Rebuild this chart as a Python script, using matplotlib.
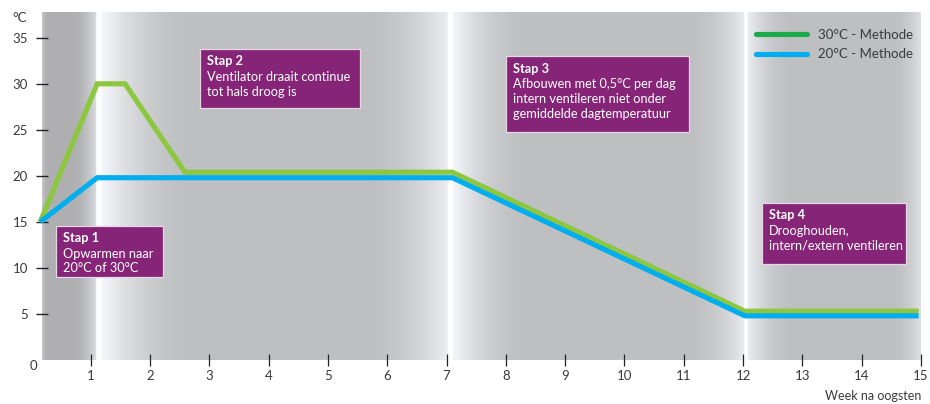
import numpy as np
import matplotlib
matplotlib.use("Agg")
import matplotlib.pyplot as plt
from matplotlib.patches import Rectangle
from matplotlib.lines import Line2D

plt.rcParams['font.family'] = ['Lato', 'DejaVu Sans']

# ---- data -------------------------------------------------------------
weeks_30 = [0.15, 1.11, 1.58, 2.59, 7.10, 12.03, 14.96]
temp_30 = [15.0, 30.0, 30.0, 20.4, 20.4, 5.3, 5.3]

weeks_20 = [0.15, 1.11, 7.10, 12.03, 14.96]
temp_20 = [15.0, 19.8, 19.8, 4.8, 4.8]

x_ticks = list(range(1, 16))
y_ticks = [5, 10, 15, 20, 25, 30, 35]

series_labels = ["30°C - Methode", "20°C - Methode"]

stap_titles = ["Stap 1", "Stap 2", "Stap 3", "Stap 4"]
stap_texts = [
    "Opwarmen naar\n20°C of 30°C",
    "Ventilator draait continue\ntot hals droog is",
    "Afbouwen met 0,5°C per dag\nintern ventileren niet onder\ngemiddelde dagtemperatuur",
    "Drooghouden,\nintern/extern ventileren",
]
# box extents: (x0, x1, y_bottom, y_top) in axis units
stap_boxes = [
    (0.42, 2.22, 8.98, 14.6),
    (2.84, 5.54, 27.38, 33.77),
    (8.00, 11.09, 24.78, 33.0),
    (12.32, 14.75, 10.39, 17.1),
]

# ---- styling ----------------------------------------------------------
GREEN = "#8DC63F"
GREEN_LEG = "#1AAB4B"
BLUE = "#00AEEF"
PURPLE = "#862478"
TXT = "#3a3a3a"

XMIN, XMAX = 0.18, 15.0
YMIN, YMAX = 0.0, 37.8

fig = plt.figure(figsize=(9.3, 4.04), dpi=100)
ax = fig.add_axes([42 / 930, 44 / 404, (921 - 42) / 930, (360 - 12) / 404])
ax.set_xlim(XMIN, XMAX)
ax.set_ylim(YMIN, YMAX)

# shaded background panels, separated by thin white gaps
panels = [
    # (x0, x1, left_edge, left_width, right_edge, right_width, base)
    (0.18, 1.09, 0.78, 0.10, 0.86, 0.40, 0.69),
    (1.18, 7.02, 0.97, 1.60, 0.93, 1.50, 0.75),
    (7.10, 12.02, 0.97, 1.30, 0.92, 1.00, 0.75),
    (12.08, 15.0, 0.93, 0.80, 0.88, 0.50, 0.75),
]
xs = np.linspace(XMIN, XMAX, 1800)
shade = np.ones_like(xs)
for x0, x1, le, lw, re, rw, base in panels:
    m = (xs >= x0) & (xs <= x1)
    v = np.full(m.sum(), base)
    dl = xs[m] - x0
    dr = x1 - xs[m]
    fl = np.clip(1 - dl / lw, 0, 1) ** 2
    fr = np.clip(1 - dr / rw, 0, 1) ** 2
    v = v + (le - base) * fl
    v = np.maximum(v, base + (re - base) * fr)
    shade[m] = v
rgb = np.stack([shade * 0.995, shade * 1.0, np.minimum(shade * 1.012, 1)], axis=-1)
img = np.repeat(rgb[None, :, :], 2, axis=0)
ax.imshow(img, extent=[XMIN, XMAX, YMIN, YMAX], aspect='auto', zorder=0,
          interpolation='bilinear')

# temperature curves
lw_line = 3.7
ax.plot(weeks_30, temp_30, color=GREEN, lw=lw_line, solid_joinstyle='miter',
        solid_capstyle='butt', zorder=3, clip_on=False)
ax.plot(weeks_20, temp_20, color=BLUE, lw=lw_line, solid_joinstyle='miter',
        solid_capstyle='butt', zorder=4, clip_on=False)

# step boxes
for (x0, x1, yb, yt), title, body in zip(stap_boxes, stap_titles, stap_texts):
    ax.add_patch(Rectangle((x0, yb), x1 - x0, yt - yb, facecolor=PURPLE,
                           edgecolor="#e6d6e4", lw=0.9, zorder=5))
    ax.annotate(title, xy=(x0, yt), xytext=(5.2, -4.6), textcoords='offset points',
                ha='left', va='top', color='white', fontsize=9.2, fontweight='bold',
                zorder=6)
    ax.annotate(body, xy=(x0, yt), xytext=(5.2, -15.8), textcoords='offset points',
                ha='left', va='top', color='white', fontsize=9.2, linespacing=1.27,
                zorder=6)

# axes and ticks
for s in ax.spines.values():
    s.set_visible(False)
ax.set_xticks(x_ticks)
ax.set_yticks(y_ticks)
ax.tick_params(axis='x', direction='inout', length=8, width=0.9, color='#222222',
               labelsize=9.5, labelcolor=TXT, pad=3)
ax.tick_params(axis='y', direction='inout', length=8, width=1.0, color='#222222',
               labelsize=9.5, labelcolor=TXT, pad=6)
ax.set_axisbelow(False)

fig.text(33 / 930, 1 - 366 / 404, "0", ha='center', va='center', fontsize=9.5, color=TXT)
fig.text(20 / 930, 1 - 18 / 404, "°C", ha='center', va='center', fontsize=9.5, color=TXT)
fig.text(921 / 930, 1 - 396 / 404, "Week na oogsten", ha='right', va='center',
         fontsize=9, color=TXT)

# legend
handles = [Line2D([], [], color=GREEN_LEG, lw=3.7, solid_capstyle='round'),
           Line2D([], [], color=BLUE, lw=3.7, solid_capstyle='round')]
ax.legend(handles, series_labels, loc='upper right', bbox_to_anchor=(1.004, 0.985),
          frameon=False, fontsize=9.5, handlelength=3.9, handletextpad=0.8,
          labelspacing=0.55, labelcolor=TXT)

fig.savefig("out.png", dpi=100)
